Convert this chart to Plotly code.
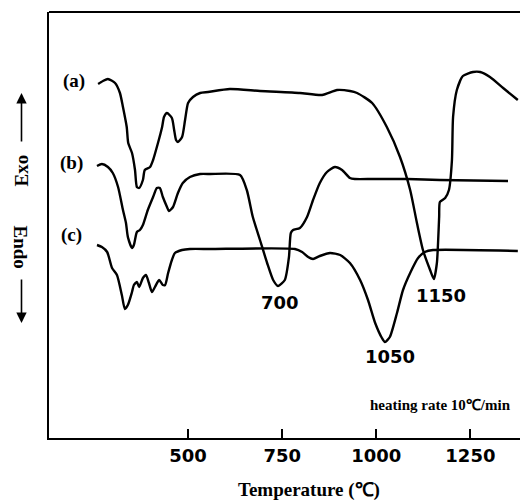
import plotly.graph_objects as go

# ---- data (temperature in deg C, DTA signal in arbitrary units) ----
temp_a = [261, 274, 287, 306, 319, 327, 337, 341, 351, 359, 364, 370, 380, 385, 399, 407,
          420, 431, 436, 444, 457, 463, 468, 473, 484, 492, 500, 513, 532, 553, 611, 691,
          797, 856, 896, 930, 949, 989, 1028, 1063, 1090, 1108, 1124, 1143, 1153, 1161,
          1167, 1169, 1183, 1193, 1201, 1204, 1214, 1230, 1257, 1276, 1302, 1337, 1376]
sig_a = [70.8, 71.4, 71.8, 71.0, 69.0, 66.2, 62.2, 59.0, 57.0, 53.6, 50.2, 50.0, 51.6, 53.6,
         54.2, 55.6, 59.0, 62.2, 64.2, 65.0, 64.0, 61.6, 59.6, 59.2, 60.2, 63.6, 67.0, 68.2,
         69.0, 69.2, 69.8, 69.4, 69.0, 68.6, 69.6, 69.4, 69.0, 67.0, 62.2, 56.2, 49.6, 43.0,
         37.6, 33.6, 31.8, 35.0, 44.2, 47.2, 48.0, 49.6, 55.6, 64.2, 69.6, 72.4, 73.2, 73.2,
         72.2, 70.0, 67.6]

temp_b = [258, 271, 287, 300, 314, 327, 335, 340, 351, 356, 364, 372, 380, 393, 407, 417,
          425, 433, 444, 449, 460, 473, 486, 505, 532, 558, 638, 656, 672, 691, 710, 726,
          739, 757, 768, 773, 779, 797, 816, 832, 850, 869, 890, 909, 930, 943, 991, 1082,
          1169, 1350]
sig_b = [54.4, 54.8, 54.2, 53.0, 50.2, 45.6, 43.0, 40.2, 38.0, 38.6, 41.2, 41.6, 42.6, 45.6,
         48.2, 50.0, 50.0, 48.2, 46.2, 45.4, 46.2, 49.0, 51.0, 52.2, 52.8, 52.8, 52.6, 49.6,
         44.2, 39.6, 35.0, 31.6, 30.4, 31.6, 36.2, 41.0, 41.6, 42.0, 44.2, 47.6, 51.0, 53.2,
         54.2, 53.6, 52.0, 51.8, 51.8, 51.8, 51.6, 51.4]

temp_c = [258, 271, 285, 298, 311, 324, 332, 340, 351, 356, 364, 370, 380, 388, 396, 404,
          412, 423, 433, 439, 447, 457, 465, 484, 505, 558, 784, 803, 819, 832, 850, 877,
          904, 930, 957, 978, 997, 1015, 1023, 1036, 1055, 1071, 1090, 1111, 1129, 1151, 1376]
sig_c = [38.6, 38.2, 37.2, 34.0, 32.6, 28.6, 25.8, 26.6, 29.2, 30.6, 31.2, 30.2, 32.0, 32.6,
         31.0, 29.2, 30.2, 31.6, 30.6, 30.6, 33.0, 35.6, 37.0, 37.6, 37.8, 37.8, 37.8, 37.2,
         36.2, 35.8, 36.4, 37.0, 36.6, 35.0, 31.6, 27.6, 23.0, 20.0, 19.2, 20.2, 25.0, 29.6,
         33.0, 36.0, 37.2, 37.6, 37.4]

tick_vals = [500, 750, 1000, 1250]
tick_text = ["<b>500</b>", "<b>750</b>", "<b>1000</b>", "<b>1250</b>"]
curve_labels = ["(a)", "(b)", "(c)"]
curve_label_pos = [(197, 71.4), (189, 55.0), (189, 40.6)]
peak_labels = ["700", "1050", "1150"]
peak_label_pos = [(745, 27.2), (1036, 16.4), (1172, 28.6)]

x_range = [130.5, 1381.8]
y_range = [0, 85.2]

fig = go.Figure()
for t, s in [(temp_a, sig_a), (temp_b, sig_b), (temp_c, sig_c)]:
    fig.add_trace(go.Scatter(x=t, y=s, mode="lines",
                             line=dict(color="black", width=2.4, shape="spline", smoothing=0.6),
                             showlegend=False, hoverinfo="skip"))

serif = "Liberation Serif"
sans = "DejaVu Sans"

# curve labels
for lab, (lx, ly) in zip(curve_labels, curve_label_pos):
    fig.add_annotation(x=lx, y=ly, text=f"<b>{lab}</b>", showarrow=False,
                       xanchor="center", yanchor="middle",
                       font=dict(family=serif, size=19, color="black"))

# peak labels
for lab, (px, py) in zip(peak_labels, peak_label_pos):
    fig.add_annotation(x=px, y=py, text=f"<b>{lab}</b>", showarrow=False,
                       xanchor="center", yanchor="middle",
                       font=dict(family=sans, size=18, color="black"))

fig.add_annotation(x=1362, y=6.6, text="<b>heating rate 10℃/min</b>", showarrow=False,
                   xanchor="right", yanchor="middle",
                   font=dict(family=serif, size=15, color="black"))

# Exo / Endo
xp = -0.0584
fig.add_annotation(xref="paper", x=xp, y=53.6, text="<b>Exo</b>", showarrow=False,
                   xanchor="center", yanchor="middle",
                   textangle=-90, font=dict(family=serif, size=19, color="black"))
fig.add_annotation(xref="paper", x=xp, y=38.2, text="<b>Endo</b>", showarrow=False,
                   xanchor="center", yanchor="middle",
                   textangle=90, font=dict(family=serif, size=19, color="black"))
fig.add_annotation(xref="paper", x=xp, y=69.0, text="", showarrow=True,
                   ax=0, ay=50, arrowhead=2, arrowsize=1.3, arrowwidth=1.6, arrowcolor="black")
fig.add_annotation(xref="paper", x=xp, y=23.0, text="", showarrow=True,
                   ax=0, ay=-45, arrowhead=2, arrowsize=1.3, arrowwidth=1.6, arrowcolor="black")

# axis title
fig.add_annotation(xref="paper", yref="paper", x=0.552, y=-0.122, text="<b>Temperature (℃)</b>",
                   showarrow=False, xanchor="center", yanchor="middle",
                   font=dict(family=serif, size=19, color="black"))

# top frame line
fig.add_shape(type="line", xref="paper", yref="paper", x0=0, x1=1, y0=1, y1=1,
              line=dict(color="black", width=2))

fig.update_xaxes(range=x_range, showline=True, linecolor="black", linewidth=2,
                 ticks="inside", ticklen=9, tickwidth=2, tickcolor="black",
                 tickvals=tick_vals, ticktext=tick_text, showgrid=False, zeroline=False,
                 tickfont=dict(family=sans, size=18, color="black"))
fig.update_yaxes(range=y_range, showline=True, linecolor="black", linewidth=2,
                 showticklabels=False, ticks="", showgrid=False, zeroline=False)

fig.update_layout(width=520, height=502, margin=dict(l=49, r=0, t=12, b=64),
                  plot_bgcolor="white", paper_bgcolor="white")

fig.write_html("out.html")
